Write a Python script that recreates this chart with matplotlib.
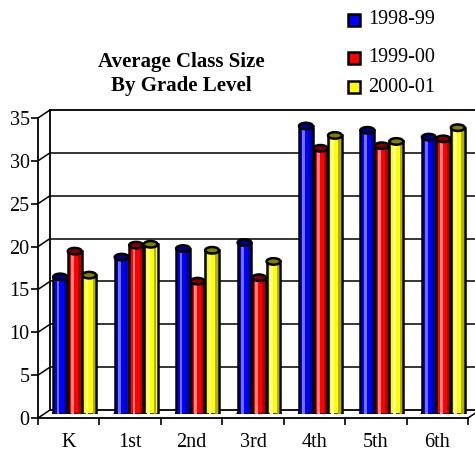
import matplotlib
matplotlib.use("Agg")
import matplotlib.pyplot as plt
from matplotlib.patches import Ellipse, Rectangle
from matplotlib.lines import Line2D
import numpy as np

plt.rcParams['font.family'] = ['Liberation Serif', 'DejaVu Serif']

# Data
grades = ["K", "1st", "2nd", "3rd", "4th", "5th", "6th"]
years = ["1998-99", "1999-00", "2000-01"]
size_9899 = [16.0, 18.3, 19.3, 20.0, 33.6, 33.1, 32.3]
size_9900 = [19.0, 19.7, 15.5, 15.9, 31.0, 31.3, 32.1]
size_0001 = [16.2, 19.8, 19.1, 17.8, 32.5, 31.8, 33.4]
yticks = [0, 5, 10, 15, 20, 25, 30, 35]

series = [size_9899, size_9900, size_0001]
colors = ["#0000FF", "#FF0000", "#FFFF00"]
lights = ["#7070FF", "#FF8080", "#FFFFA0"]
darks = ["#0000A8", "#B00000", "#B0B000"]
caps = ["#000080", "#800000", "#808000"]

W, H = 475, 454
fig = plt.figure(figsize=(W / 100, H / 100), dpi=100)


def px_rect(x0, y0, x1, y1):
    # pixel box (top-left origin) -> figure fraction
    return [x0 / W, 1 - y1 / H, (x1 - x0) / W, (y1 - y0) / H]


def fy(v, base, top):
    return base - (base - top) * v / 35.0


YMAX = 35
# back wall, mid plane (bars), front plane (axis)
back = fig.add_axes(px_rect(50, 110, 480, 410))
mid = fig.add_axes(px_rect(44, 114, 474, 414))
front = fig.add_axes(px_rect(38, 118, 468, 418))

for a in (back, mid, front):
    a.set_xlim(0, 7)
    a.set_ylim(0, YMAX)
    a.patch.set_alpha(0)

# back wall
back.set_xticks([])
back.set_yticks([])
for s in back.spines.values():
    s.set_linewidth(1.3)
for v in yticks[1:-1]:
    back.axhline(v, color="black", lw=1.1)

# bars
mid.axis("off")
bw = 0.225
step = 0.236
x = np.arange(len(grades)) + 0.5
ppu_y = 300 / 35.0
cap_h = 6.5 / ppu_y
for i, vals in enumerate(series):
    xs = x + (i - 1) * step
    # rounded bottom
    for xi in xs:
        mid.add_patch(Ellipse((xi, 0), bw, cap_h, facecolor=colors[i],
                              edgecolor="black", lw=1.8, zorder=2))
    mid.bar(xs, vals, width=bw, color=colors[i], edgecolor="black",
            lw=1.8, zorder=3)
    mid.bar(xs - 0.035, vals, width=0.045, color=lights[i], lw=0, zorder=4)
    mid.bar(xs + 0.075, vals, width=0.04, color=darks[i], lw=0, zorder=4)
    for xi, v in zip(xs, vals):
        mid.add_patch(Ellipse((xi, v), bw, cap_h, facecolor=caps[i],
                              edgecolor="black", lw=1.8, zorder=5))

# front axis
for s in ("top", "right"):
    front.spines[s].set_visible(False)
for s in ("left", "bottom"):
    front.spines[s].set_linewidth(1.3)
front.set_yticks(yticks)
front.tick_params(axis="y", direction="out", length=5, width=1.2, pad=1,
                  labelsize=14.5)
front.set_xticks(np.arange(0, 8))
front.set_xticklabels([])
front.set_xticks(x, minor=True)
front.set_xticklabels(grades, minor=True)
front.tick_params(axis="x", which="major", direction="out", length=5, width=1.2)
front.tick_params(axis="x", which="minor", length=0, pad=11, labelsize=14.5)

# side wall and floor edges
for v in yticks:
    fig.add_artist(Line2D([38 / W, 50 / W],
                          [1 - fy(v, 418, 118) / H, 1 - fy(v, 410, 110) / H],
                          color="black", lw=1.1))
fig.add_artist(Line2D([468 / W, 480 / W], [1 - 418 / H, 1 - 410 / H],
                      color="black", lw=1.1))

# title
fig.text(181 / W, 1 - 74 / H, "Average Class Size\nBy Grade Level",
         ha="center", va="center", fontsize=15, fontweight="bold",
         linespacing=1.3)

# legend
leg_y = [20, 58, 87]
for i, lab in enumerate(years):
    fig.add_artist(Rectangle((348 / W, 1 - (leg_y[i] + 6) / H), 12 / W, 12 / H,
                             facecolor=colors[i], edgecolor="black", lw=1.8,
                             transform=fig.transFigure))
    fig.text(368 / W, 1 - leg_y[i] / H, lab, ha="left", va="center",
             fontsize=14.5)

fig.savefig("out.png", dpi=100)
